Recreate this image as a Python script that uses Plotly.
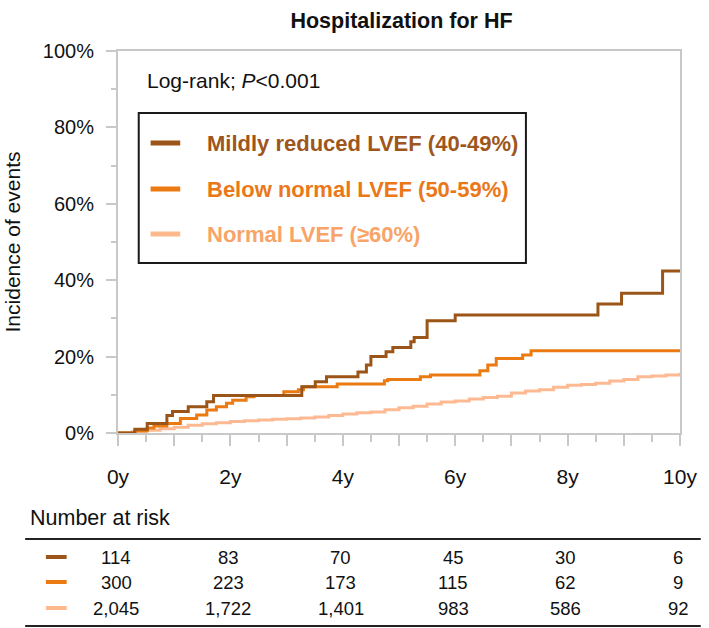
import plotly.graph_objects as go

# ---------------- data ----------------
series_names = ["Mildly reduced LVEF (40-49%)", "Below normal LVEF (50-59%)", "Normal LVEF (\u226560%)"]

t_mild = [0, 0.30, 0.52, 0.87, 0.97, 1.25, 1.58, 1.70, 3.27, 3.51, 3.71, 4.27, 4.42, 4.50, 4.77, 4.89, 5.21, 5.27, 5.50, 6.00, 8.54, 8.96, 9.69, 10.0]
y_mild = [0, 1.0, 2.5, 4.6, 5.6, 6.9, 8.2, 9.8, 12.1, 13.4, 14.7, 16.0, 17.8, 20.0, 21.3, 22.4, 23.9, 25.0, 29.4, 30.9, 33.8, 36.6, 42.4, 42.4]

t_below = [0, 0.30, 0.52, 0.64, 0.87, 1.11, 1.40, 1.58, 1.75, 1.93, 2.04, 2.28, 2.42, 2.95, 3.21, 3.30, 3.90, 4.74, 4.80, 5.38, 5.56, 6.44, 6.58, 6.73, 7.20, 7.35, 10.0]
y_below = [0, 0.6, 1.3, 1.8, 2.5, 3.8, 4.7, 6.0, 6.9, 7.8, 8.6, 9.5, 9.8, 10.8, 11.3, 12.1, 12.8, 13.7, 14.0, 14.7, 15.2, 16.3, 17.8, 19.5, 20.4, 21.5, 21.5]

t_normal = [0, 0.25, 0.5, 0.75, 1.0, 1.25, 1.5, 1.75, 2.0, 2.25, 2.5, 2.75, 3.0, 3.25, 3.5, 3.75, 4.0, 4.25, 4.5, 4.75, 5.0,
            5.25, 5.5, 5.75, 6.0, 6.25, 6.5, 6.75, 7.0, 7.25, 7.5, 7.75, 8.0, 8.25, 8.5, 8.75, 9.0, 9.25, 9.5, 9.75, 10.0]
y_normal = [0, 0.3, 0.7, 1.1, 1.5, 2.0, 2.4, 2.7, 3.0, 3.2, 3.4, 3.6, 3.7, 3.9, 4.2, 4.6, 5.0, 5.3, 5.5, 6.1, 6.6,
            7.0, 7.6, 8.1, 8.4, 8.9, 9.3, 9.6, 10.5, 11.0, 11.3, 12.0, 12.5, 12.7, 13.0, 13.6, 14.0, 14.7, 14.9, 15.2, 15.8]

risk_times = [0, 2, 4, 6, 8, 10]
risk_mild = [114, 83, 70, 45, 30, 6]
risk_below = [300, 223, 173, 115, 62, 9]
risk_normal = [2045, 1722, 1401, 983, 586, 92]

x_tick_vals = [0, 1, 2, 3, 4, 5, 6, 7, 8, 9, 10]
x_tick_text = ["0y", "", "2y", "", "4y", "", "6y", "", "8y", "", "10y"]
y_tick_vals = [0, 20, 40, 60, 80, 100]
y_tick_text = ["0%", "20%", "40%", "60%", "80%", "100%"]

# ---------------- style ----------------
FONT = "Arial, 'Liberation Sans', sans-serif"
line_colors = ["#9B5518", "#EC7A12", "#FDBA92"]
text_colors = ["#9E561C", "#EA7818", "#F8A468"]
swatch_colors = ["#9B5518", "#EC7A12", "#FDB88C"]
AX = "#c8c8c8"

W, H = 709, 628
L, R, T, B = 117, 23, 51, 195
pw, ph = W - L - R, H - T - B


def px_x(px):
    return (px - L) / pw


def px_y(py):
    return (H - B - py) / ph


fig = go.Figure()

order = [2, 1, 0]
ts = [t_mild, t_below, t_normal]
ys = [y_mild, y_below, y_normal]
for i in order:
    fig.add_trace(go.Scatter(
        x=ts[i], y=ys[i], mode="lines", line=dict(shape="hv", color=line_colors[i], width=3),
        name=series_names[i], showlegend=False, hoverinfo="skip"))

fig.update_layout(
    width=W, height=H, autosize=False,
    margin=dict(l=L, r=R, t=T, b=B),
    paper_bgcolor="white", plot_bgcolor="white",
    font=dict(family=FONT, color="#111111", size=20),
    showlegend=False,
    title=dict(text="<b>Hospitalization for HF</b>", x=(L + pw / 2) / W, xanchor="center",
               y=1 - 20 / H, yanchor="middle", font=dict(size=21.5, family=FONT, color="#111111")),
)

fig.update_xaxes(range=[0, 10], showgrid=False, zeroline=False,
                 showline=True, linecolor=AX, linewidth=2, mirror=True,
                 ticks="outside", tickvals=x_tick_vals, ticktext=x_tick_text,
                 ticklen=11, tickwidth=2, tickcolor=AX,
                 minor=dict(dtick=0.5, ticks="outside", ticklen=7, tickwidth=2, tickcolor=AX),
                 tickfont=dict(size=21), ticklabelstandoff=13)
fig.update_yaxes(range=[0, 100], showgrid=False, zeroline=False,
                 showline=True, linecolor=AX, linewidth=2, mirror=True,
                 ticks="outside", tickvals=y_tick_vals, ticktext=y_tick_text,
                 ticklen=10, tickwidth=2, tickcolor=AX,
                 minor=dict(dtick=10, ticks="outside", ticklen=5, tickwidth=2, tickcolor=AX),
                 tickfont=dict(size=20), ticklabelstandoff=8,
                 title=dict(text="Incidence of events", font=dict(size=21), standoff=16))

# Log-rank text
fig.add_annotation(x=px_x(144), y=px_y(80), xref="paper", yref="paper", xanchor="left", yanchor="middle",
                   text="Log-rank; <i>P</i>&lt;0.001", showarrow=False, font=dict(size=21))

# Legend box (drawn)
fig.add_shape(type="rect", xref="paper", yref="paper", x0=px_x(138), x1=px_x(530), y0=px_y(263), y1=px_y(113),
              line=dict(color="#1a1a1a", width=2), fillcolor="white", layer="above")
leg_y = [143, 189, 234]
for i in range(3):
    fig.add_shape(type="line", xref="paper", yref="paper", x0=px_x(150), x1=px_x(180),
                  y0=px_y(leg_y[i]), y1=px_y(leg_y[i]), line=dict(color=swatch_colors[i], width=5), layer="above")
    fig.add_annotation(x=px_x(205), y=px_y(leg_y[i]), xref="paper", yref="paper", xanchor="left", yanchor="middle",
                       text=f"<b>{series_names[i]}</b>", showarrow=False,
                       font=dict(size=22, color=text_colors[i]))

# Number at risk table
fig.add_annotation(x=px_x(26), y=px_y(518), xref="paper", yref="paper", xanchor="left", yanchor="middle",
                   text="Number at risk", showarrow=False, font=dict(size=21.5))
for yy in (539, 626):
    fig.add_shape(type="line", xref="paper", yref="paper", x0=px_x(23), x1=px_x(707), y0=px_y(yy), y1=px_y(yy),
                  line=dict(color="#222222", width=2))
row_y = [557, 582, 608]
risk_rows = [risk_mild, risk_below, risk_normal]
for r in range(3):
    fig.add_shape(type="line", xref="paper", yref="paper", x0=px_x(44), x1=px_x(65), y0=px_y(row_y[r]), y1=px_y(row_y[r]),
                  line=dict(color=swatch_colors[r], width=4))
    for tt, v in zip(risk_times, risk_rows[r]):
        fig.add_annotation(x=tt, y=px_y(row_y[r]), xref="x", yref="paper", xanchor="center", yanchor="middle",
                           text=f"{v:,}", showarrow=False, font=dict(size=18.5), xshift=-2)

fig.write_html("out.html", config={"displayModeBar": False},
               post_script="document.body.style.margin='0';")
